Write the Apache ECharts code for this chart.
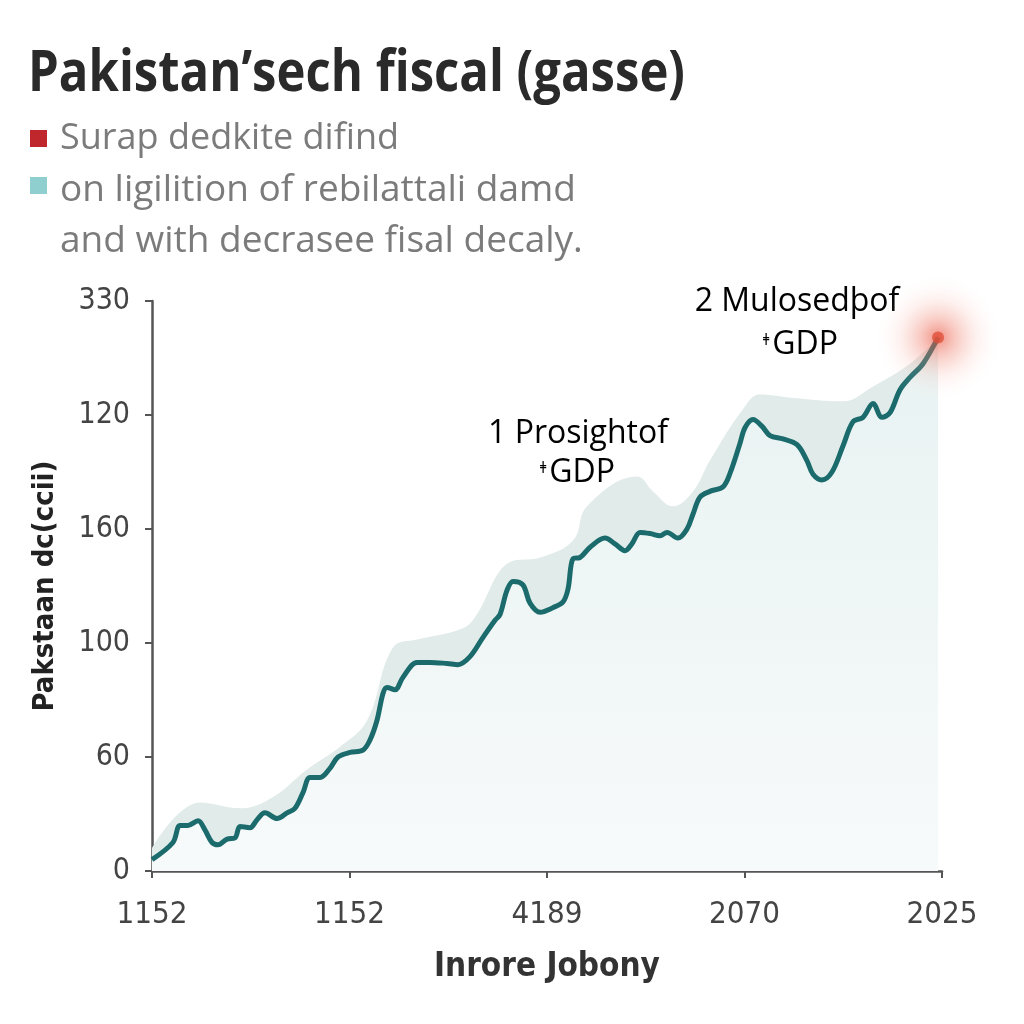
<!DOCTYPE html>
<html><head><meta charset="utf-8">
<script src="https://cdn.jsdelivr.net/npm/echarts@6/dist/echarts.min.js"></script>
<style>html,body{margin:0;padding:0;background:#fff}#c{width:1024px;height:1024px}</style>
</head><body><div id="c"></div>
<script>
const titleText = 'Pakistan’sech fiscal (gasse)';
const legendLine1 = 'Surap dedkite difind';
const legendLine2 = 'on ligilition of rebilattali damd';
const legendLine3 = 'and with decrasee fisal decaly.';
const xTickLabels = ['1152', '1152', '4189', '2070', '2025'];
const yTickLabels = ['0', '60', '100', '160', '120', '330'];
const xAxisName = 'Inrore Jobony';
const yAxisName = 'Pakstaan dc(ccii)';

const lineX = [0.000,0.106,0.142,0.182,0.233,0.268,0.304,0.334,0.380,0.420,0.446,0.496,0.532,0.572,0.633,0.684,0.724,0.765,0.800,0.851,0.901,0.942,1.003,1.068,1.104,1.139,1.170,1.190,1.230,1.271,1.342,1.408,1.494,1.549,1.610,1.676,1.737,1.762,1.797,1.828,1.878,1.914,1.965,2.030,2.081,2.106,2.132,2.167,2.218,2.294,2.344,2.395,2.430,2.471,2.522,2.572,2.608,2.663,2.709,2.739,2.775,2.825,2.891,2.927,2.977,3.003,3.043,3.089,3.129,3.195,3.266,3.316,3.347,3.392,3.443,3.499,3.549,3.600,3.651,3.696,3.737,3.787,3.838,3.904,3.980];
const lineY = [0.10,0.25,0.40,0.40,0.44,0.36,0.25,0.23,0.28,0.29,0.39,0.38,0.45,0.51,0.46,0.51,0.55,0.69,0.82,0.82,0.90,1.00,1.04,1.06,1.15,1.32,1.56,1.61,1.59,1.70,1.83,1.83,1.82,1.81,1.88,2.05,2.20,2.25,2.46,2.54,2.51,2.35,2.27,2.31,2.36,2.47,2.74,2.75,2.84,2.92,2.87,2.81,2.87,2.97,2.96,2.94,2.97,2.92,3.00,3.13,3.28,3.33,3.37,3.49,3.75,3.89,3.96,3.90,3.82,3.79,3.74,3.60,3.48,3.43,3.50,3.73,3.94,3.98,4.10,3.98,4.02,4.22,4.33,4.45,4.68];

const bandX = [0.000,0.243,0.446,0.613,0.785,0.952,1.089,1.220,1.342,1.544,1.625,1.813,1.965,2.132,2.203,2.456,2.537,2.638,2.739,2.825,2.992,3.078,3.246,3.499,3.651,3.838,3.980];
const bandY = [0.20,0.60,0.55,0.65,0.89,1.09,1.32,1.96,2.03,2.11,2.20,2.71,2.75,2.90,3.20,3.46,3.33,3.20,3.33,3.60,4.05,4.18,4.15,4.12,4.25,4.45,4.68];

const peakX = [3.980];
const peakY = [4.68];

const narrow = "'Liberation Sans Narrow','DejaVu Sans Condensed','Open Sans',sans-serif";
const regular = "'Open Sans','Noto Sans',sans-serif";

// fit the condensed-looking title to its width in the reference
const titleFont = "bold 58px 'Open Sans'";
const mctx = document.createElement('canvas').getContext('2d');
mctx.font = titleFont;
const titleScale = Math.min(1, 657 / mctx.measureText(titleText).width);

const chart = echarts.init(document.getElementById('c'), null, {renderer: 'canvas'});
const zip = (a, b) => a.map((v, i) => [v, b[i]]);

const rich = (dark) => ({
  n: {fontSize: 32, color: '#9a9a9a', fontFamily: regular},
  d: {fontSize: 32, color: dark, fontFamily: regular},
  l: {fontSize: 32, color: '#b3b3b3', fontFamily: regular},
  s: {fontSize: 16, color: '#888', fontFamily: regular, padding: [0, 2, 10, 0]}
});

chart.setOption({
  backgroundColor: '#ffffff',
  animation: false,
  grid: {left: 152, right: 82, top: 301, bottom: 153, containLabel: false},
  xAxis: {
    type: 'value', min: 0, max: 4, interval: 1,
    axisLine: {show: true, lineStyle: {color: '#555', width: 2.5}},
    axisTick: {show: true, length: 7, lineStyle: {color: '#555', width: 2}},
    splitLine: {show: false},
    axisLabel: {formatter: v => xTickLabels[v], fontSize: 31, color: '#444', margin: 28, fontFamily: narrow},
    name: xAxisName, nameLocation: 'middle', nameGap: 80,
    nameTextStyle: {fontSize: 33, fontWeight: 'bold', color: '#333', fontFamily: narrow}
  },
  yAxis: {
    type: 'value', min: 0, max: 5, interval: 1,
    axisLine: {show: true, lineStyle: {color: '#555', width: 2.5}},
    axisTick: {show: true, length: 7, lineStyle: {color: '#555', width: 2}},
    splitLine: {show: false},
    axisLabel: {formatter: v => yTickLabels[v], fontSize: 30, color: '#444', margin: 22, fontFamily: narrow},
    name: yAxisName, nameLocation: 'middle', nameGap: 92, nameRotate: 90,
    nameTextStyle: {fontSize: 29, fontWeight: 'bold', color: '#222', fontFamily: narrow}
  },
  series: [
    {
      type: 'line', data: zip(bandX, bandY), smooth: 0.4, symbol: 'none', z: 1,
      lineStyle: {width: 0}, areaStyle: {color: '#e1ebea', opacity: 1}
    },
    {
      type: 'line', data: zip(lineX, lineY), smooth: 0.35, symbol: 'none', z: 2,
      lineStyle: {color: '#1b6b6d', width: 5},
      areaStyle: {opacity: 1, color: new echarts.graphic.LinearGradient(0, 0, 0, 1, [
        {offset: 0, color: '#e8f2f2'}, {offset: 1, color: '#f7fafa'}])}
    },
    {
      type: 'scatter', data: zip(peakX, peakY), symbolSize: 130, z: 3, silent: true,
      itemStyle: {color: new echarts.graphic.RadialGradient(0.5, 0.5, 0.5, [
        {offset: 0, color: 'rgba(232,80,60,0.8)'},
        {offset: 0.25, color: 'rgba(238,115,95,0.5)'},
        {offset: 0.6, color: 'rgba(245,165,150,0.18)'},
        {offset: 1, color: 'rgba(255,255,255,0)'}])}
    },
    {
      type: 'scatter', data: zip(peakX, peakY), symbolSize: 12, z: 4,
      itemStyle: {color: '#e0503a'}
    }
  ],
  graphic: [
    {type: 'text', x: 28, y: 74, scaleX: titleScale, style: {text: titleText, font: titleFont, fill: '#2a2a2a', textVerticalAlign: 'middle'}},
    {type: 'rect', shape: {x: 30, y: 130, width: 17, height: 17}, style: {fill: '#c0272d'}},
    {type: 'rect', shape: {x: 30, y: 177, width: 17, height: 17}, style: {fill: '#8fcfcf'}},
    {type: 'text', x: 60, y: 139, style: {text: legendLine1, fontSize: 36, fill: '#7b7b7b', fontFamily: regular, textVerticalAlign: 'middle'}},
    {type: 'text', x: 60, y: 190, style: {text: legendLine2, fontSize: 37, fill: '#7b7b7b', fontFamily: regular, textVerticalAlign: 'middle'}},
    {type: 'text', x: 60, y: 241, style: {text: legendLine3, fontSize: 37, fill: '#7b7b7b', fontFamily: regular, textVerticalAlign: 'middle'}},
    {type: 'text', x: 578, y: 434, style: {text: '{n|1 }{d|Prosight}{l|of}', textAlign: 'center', textVerticalAlign: 'middle', rich: rich('#4a4a4a')}},
    {type: 'text', x: 577, y: 473, style: {text: '{s|ǂ}{d|GDP}', textAlign: 'center', textVerticalAlign: 'middle', rich: rich('#4a4a4a')}},
    {type: 'text', x: 797, y: 302, style: {text: '{n|2 }{d|Mulosed}{l|þof}', textAlign: 'center', textVerticalAlign: 'middle', rich: rich('#3a3a3a')}},
    {type: 'text', x: 800, y: 345, style: {text: '{s|ǂ}{d|GDP}', textAlign: 'center', textVerticalAlign: 'middle', rich: rich('#3a3a3a')}}
  ]
});
</script>
</body></html>
